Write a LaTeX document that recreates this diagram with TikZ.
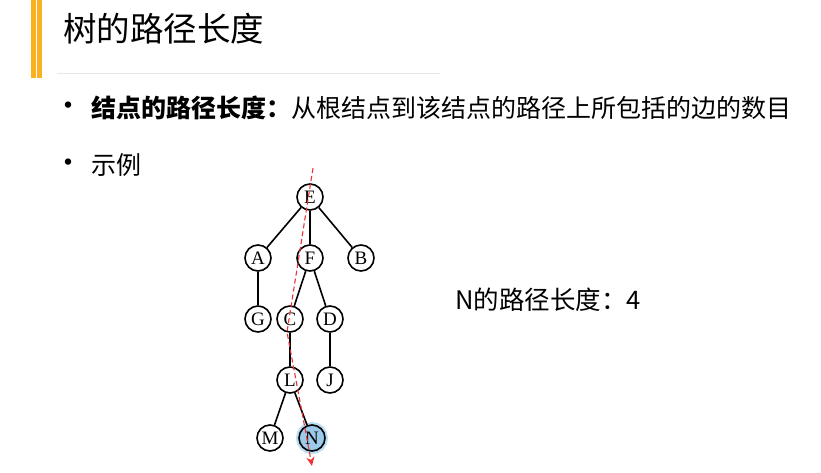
\documentclass[tikz,border=0pt]{standalone}
\usepackage{fontspec}
\setmainfont{Liberation Serif}
\newfontfamily\cjk{Noto Sans CJK SC}
\usepackage{tikz}
\usetikzlibrary{arrows.meta}
\definecolor{barorange}{HTML}{F9B122}
\definecolor{rulegray}{HTML}{E8E8E8}
\definecolor{nfill}{HTML}{9CCBEA}
\definecolor{nglow}{HTML}{B9DDF3}
\definecolor{pathred}{HTML}{F03030}

\begin{document}
\begin{tikzpicture}[x=1pt, y=-1pt,
    vertex/.style={draw, circle, line width=1.6pt, minimum size=26pt, inner sep=0pt, font=\fontsize{19}{19}\selectfont},
    hot/.style={vertex, fill=nfill, preaction={draw=nglow, line width=6pt}},
    edge/.style={line width=1.6pt}]
	  \useasboundingbox (0,0) rectangle (821,472);

	  % Title bar
	  \fill [barorange] (30.5,0) rectangle (35.5,78);
	  \fill [barorange] (37,0) rectangle (42,78);
	  \draw [rulegray, line width=1pt] (57,73) -- (440,73);
	  \node [anchor=west, inner sep=0pt, font=\cjk\fontsize{33.5}{33.5}\selectfont] (title) at (63,29) {树的路径长度};

	  % Bullets
	  \node [inner sep=0pt, font=\cjk\fontsize{30}{30}\selectfont] (b1) at (68,109) {•};
	  \node [anchor=west, inner sep=0pt, font=\cjk\fontsize{25}{25}\selectfont] (def) at (91,108) {\textbf{结点的路径长度：}从根结点到该结点的路径上所包括的边的数目};
	  \node [inner sep=0pt, font=\cjk\fontsize{30}{30}\selectfont] (b2) at (68,166) {•};
	  \node [anchor=west, inner sep=0pt, font=\cjk\fontsize{25}{25}\selectfont] (ex) at (91,165) {示例};

	  % Tree
	  \node [vertex] (E) at (310,197) {E};
	  \node [vertex] (A) at (258,258) {A};
	  \node [vertex] (F) at (310,258) {F};
	  \node [vertex] (B) at (361,258) {B};
	  \node [vertex] (G) at (258,319) {G};
	  \node [vertex] (C) at (290,319) {C};
	  \node [vertex] (D) at (330,319) {D};
	  \node [vertex] (L) at (290,380) {L};
	  \node [vertex] (J) at (330,380) {J};
	  \node [vertex] (M) at (270,438) {M};
	  \node [hot] (N) at (312,438) {N};

	  \draw [edge] (E) -- (A);
	  \draw [edge] (E) -- (F);
	  \draw [edge] (E) -- (B);
	  \draw [edge] (A) -- (G);
	  \draw [edge] (F) -- (C);
	  \draw [edge] (F) -- (D);
	  \draw [edge] (C) -- (L);
	  \draw [edge] (D) -- (J);
	  \draw [edge] (L) -- (M);
	  \draw [edge] (L) -- (N);

	  % Path from the root to N
	  \coordinate (top) at (313,168);
	  \coordinate (bend) at (287,332);
	  \coordinate (tip) at (312,466);
	  \draw [pathred, dash pattern=on 5pt off 3pt, line width=1.1pt, -{Stealth[length=9pt, width=8pt]}] (top) -- (bend) -- (tip);

	  \node [anchor=west, inner sep=0pt, font=\cjk\fontsize{25.5}{25.5}\selectfont] (len) at (455,300) {N的路径长度：4};
	 \end{tikzpicture}
\end{document}
